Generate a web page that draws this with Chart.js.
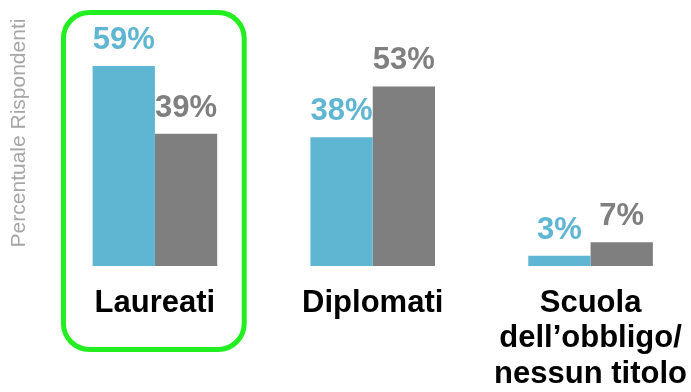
<!DOCTYPE html>
<html>
<head>
<meta charset="utf-8">
<script src="https://cdn.jsdelivr.net/npm/chart.js@4"></script>
<style>
  html, body { margin: 0; padding: 0; background: #fff; overflow: hidden; }
  #wrap { width: 706px; height: 392px; }
</style>
</head>
<body>
<div id="wrap"><canvas id="chart" width="706" height="392"></canvas></div>
<script>
// Categories and values (percent of respondents)
const categories = [['Laureati'], ['Diplomati'], ['Scuola', 'dell\u2019obbligo/', 'nessun titolo']];
const blueValues = [59, 38, 3];
const grayValues = [39, 53, 7];

const blue = '#5eb6d3';
const gray = '#7f7f7f';
const fontFamily = 'Arial, "Liberation Sans", sans-serif';

// value labels above each bar, in the bar's own colour
const valueLabels = {
    id: 'valueLabels',
    afterDatasetsDraw(chart) {
        const ctx = chart.ctx;
        ctx.save();
        ctx.font = 'bold 31px ' + fontFamily;
        ctx.textAlign = 'center';
        ctx.textBaseline = 'alphabetic';
        chart.data.datasets.forEach((ds, i) => {
            chart.getDatasetMeta(i).data.forEach((bar, j) => {
                ctx.fillStyle = ds.backgroundColor;
                ctx.fillText(ds.data[j] + '%', bar.x, bar.y - 17);
            });
        });
        ctx.restore();
    }
};

// rounded green frame around the first group
const highlightBox = {
    id: 'highlightBox',
    afterDraw(chart) {
        const x = chart.scales.x;
        const cx = x.getPixelForValue(0);
        const w = (x.right - x.left) / categories.length;
        const left = cx - w * 0.42, right = cx + w * 0.41;
        const top = 12.5, bottom = 349.5;
        const ctx = chart.ctx;
        ctx.save();
        ctx.strokeStyle = '#22ee22';
        ctx.lineWidth = 5;
        ctx.beginPath();
        ctx.roundRect(left, top, right - left, bottom - top, 26);
        ctx.stroke();
        ctx.restore();
    }
};

const chart = new Chart(document.getElementById('chart'), {
    type: 'bar',
    data: {
        labels: categories,
        datasets: [
            { data: blueValues, backgroundColor: blue, borderWidth: 0 },
            { data: grayValues, backgroundColor: gray, borderWidth: 0 }
        ]
    },
    options: {
        responsive: false,
        animation: false,
        layout: { padding: 0 },
        barPercentage: 1,
        categoryPercentage: 0.572,
        plugins: { legend: { display: false }, tooltip: { enabled: false } },
        scales: {
            x: {
                grid: { display: false, drawTicks: false },
                border: { display: false },
                ticks: {
                    color: '#000',
                    padding: 19,
                    maxRotation: 0,
                    font: { family: fontFamily, size: 31, weight: 'bold', lineHeight: 1.16 }
                },
                afterFit(scale) { scale.height = 126; }
            },
            y: {
                min: 0,
                max: 78.5,
                grid: { display: false, drawTicks: false },
                border: { display: false },
                ticks: { display: false },
                title: {
                    display: true,
                    text: 'Percentuale Rispondenti',
                    color: '#a6a6a6',
                    padding: { top: 7, bottom: 0 },
                    font: { family: fontFamily, size: 21, weight: 'normal' }
                },
                afterFit(scale) { scale.width = 46; }
            }
        }
    },
    plugins: [valueLabels, highlightBox]
});
</script>
</body>
</html>
